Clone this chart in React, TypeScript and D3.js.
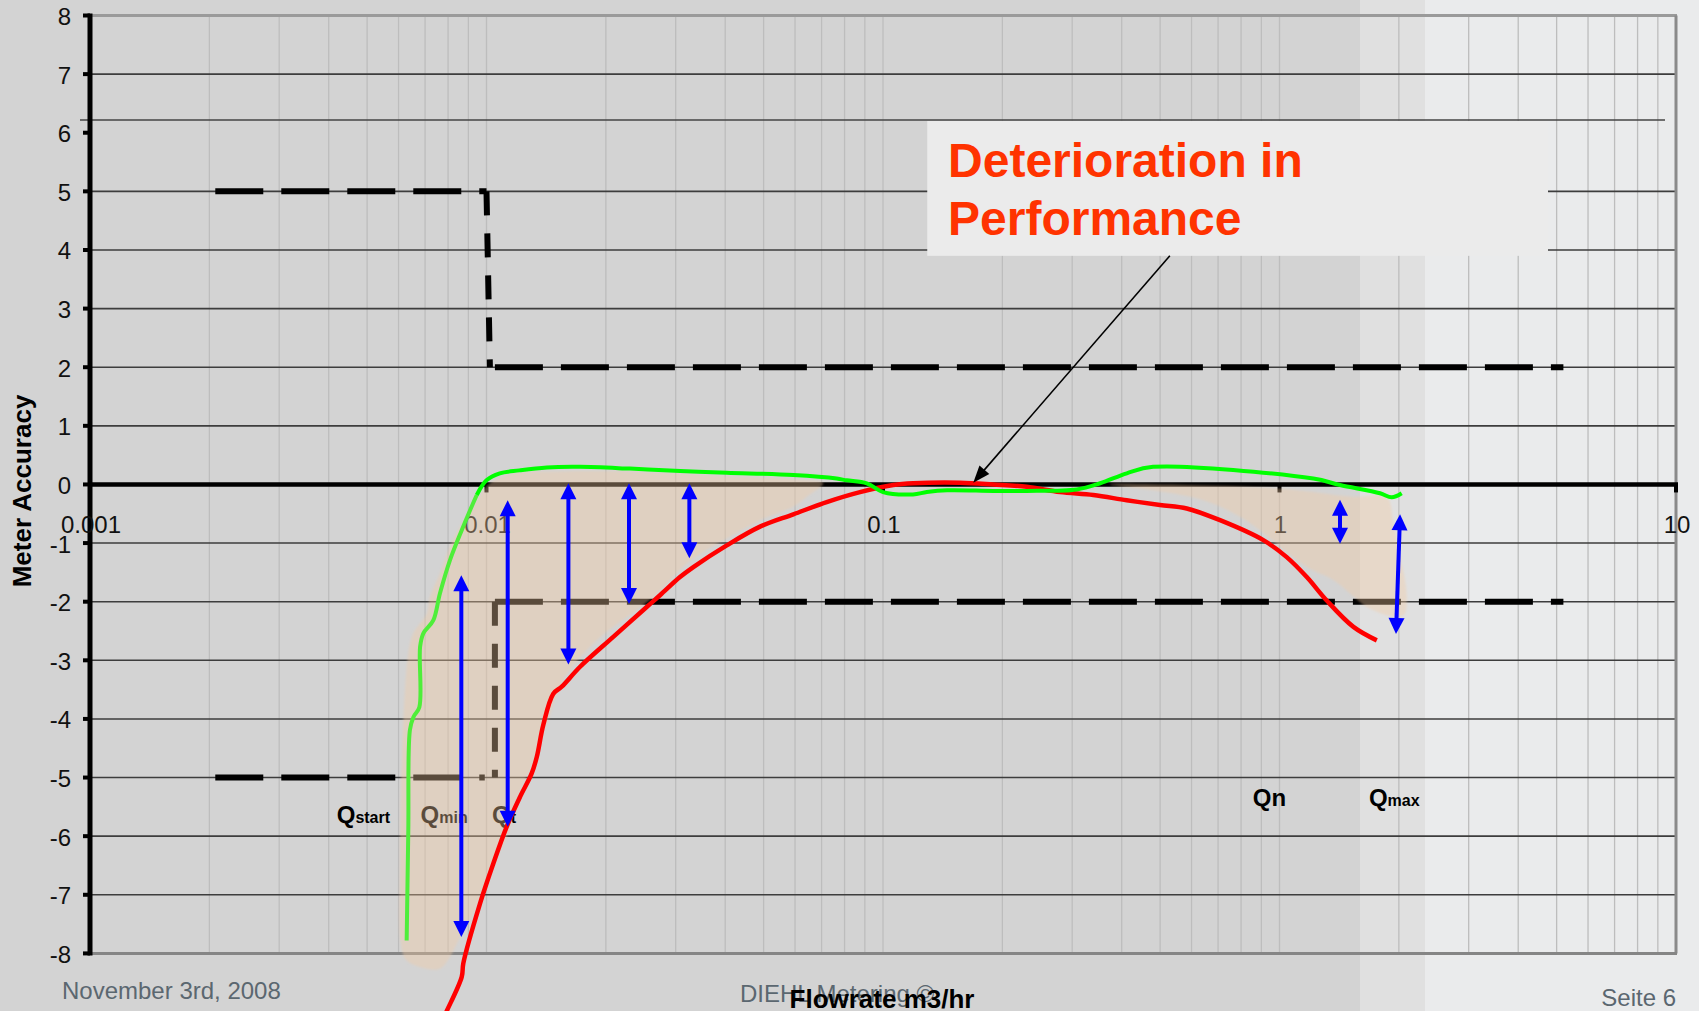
import React from "react";
import * as d3 from "d3";

const W = 1699;
const H = 1011;

// axis ticks
const xTicks = [0.001, 0.01, 0.1, 1, 10];
const xTickLabels = ["0.001", "0.01", "0.1", "1", "10"];
const yTicks = [-8, -7, -6, -5, -4, -3, -2, -1, 0, 1, 2, 3, 4, 5, 6, 7, 8];
const yGridValues = [-7, -6, -5, -4, -3, -2, -1, 1, 2, 3, 4, 5, 7];
const strayLineValue = 6.2;

// new meter curve (green)
const newMeterX = [0.00629, 0.00635, 0.00641, 0.00654, 0.00677, 0.0068, 0.00693, 0.00734, 0.00763, 0.00809, 0.00866, 0.00909, 0.00945, 0.01, 0.0108, 0.0121, 0.0142, 0.0172, 0.023, 0.0308, 0.0404, 0.0594, 0.0764, 0.081, 0.091, 0.1, 0.119, 0.129, 0.145, 0.19, 0.23, 0.308, 0.353, 0.412, 0.48, 1.217, 1.421, 1.793, 1.919, 2.033];
const newMeterY = [-7.78, -5.9, -4.19, -3.97, -3.8, -2.77, -2.54, -2.32, -1.86, -1.29, -0.78, -0.44, -0.18, 0.07, 0.19, 0.24, 0.29, 0.3, 0.27, 0.23, 0.2, 0.16, 0.1, 0.07, 0.02, -0.13, -0.17, -0.13, -0.1, -0.11, -0.11, -0.085, 0.02, 0.19, 0.3, 0.1, -0.01, -0.15, -0.22, -0.15];
const newMeterSplit = 12;

// deteriorated meter curve (red)
const oldMeterX = [0.0078, 0.00793, 0.00866, 0.00874, 0.00963, 0.0104, 0.01124, 0.01215, 0.013, 0.01339, 0.01391, 0.01474, 0.01548, 0.01722, 0.02088, 0.02535, 0.02739, 0.03076, 0.03324, 0.04036, 0.04897, 0.0594, 0.07211, 0.0875, 0.10617, 0.11926, 0.15641, 0.18978, 0.23034, 0.2795, 0.33913, 0.41166, 0.49952, 0.58345, 0.70795, 0.91021, 1.0428, 1.1716, 1.3156, 1.5361, 1.7596];
const oldMeterY = [-9.1, -8.99, -8.4, -8.17, -7.15, -6.47, -5.84, -5.33, -4.93, -4.65, -4.1, -3.57, -3.45, -3.11, -2.6, -2.09, -1.89, -1.58, -1.41, -1.04, -0.72, -0.51, -0.3, -0.13, -0.01, 0.02, 0.03, 0.0, -0.04, -0.13, -0.18, -0.27, -0.35, -0.41, -0.61, -0.95, -1.24, -1.58, -1.98, -2.43, -2.66];

// deterioration band (beige), low-flow part
const bandAX = [0.0102, 0.01168, 0.01419, 0.01933, 0.03076, 0.04036, 0.0594, 0.07068, 0.06423, 0.0594, 0.04897, 0.04036, 0.03324, 0.03076, 0.02635, 0.02088, 0.01896, 0.01594, 0.01503, 0.01419, 0.01364, 0.01312, 0.01238, 0.01168, 0.01124, 0.0102, 0.00945, 0.00858, 0.00809, 0.00763, 0.00707, 0.00629, 0.00608, 0.00605, 0.00611, 0.00635, 0.00654, 0.00707, 0.0072, 0.00763, 0.00809, 0.00858, 0.00945];
const bandAY = [0.02, 0.19, 0.22, 0.23, 0.19, 0.14, 0.09, 0.02, -0.21, -0.38, -0.61, -0.92, -1.26, -1.46, -1.92, -2.43, -2.66, -3.23, -3.57, -4.08, -4.28, -4.76, -5.1, -5.61, -6.01, -6.58, -7.21, -7.72, -8.06, -8.26, -8.26, -8.12, -7.83, -6.47, -4.76, -2.88, -2.54, -2.2, -1.92, -1.52, -1.06, -0.72, -0.27];

// deterioration band (beige), high-flow part
const bandBX = [0.3737, 0.5835, 1.003, 1.536, 1.864, 1.937, 2.014, 2.073, 2.094, 2.073, 2.014, 1.864, 1.659, 1.506, 1.367, 1.172, 1.003, 0.8929, 0.78, 0.6427, 0.4805];
const bandBY = [0.0, -0.01, -0.07, -0.21, -0.22, -0.65, -1.23, -1.63, -1.97, -2.2, -2.26, -2.23, -2.09, -1.86, -1.63, -1.41, -1.06, -0.78, -0.52, -0.27, -0.1];

// blue double arrows
const arrowX = [0.00864, 0.01131, 0.01609, 0.02288, 0.03248, 1.421, 2.014];
const arrowXEnd = [0.00864, 0.01131, 0.01609, 0.02288, 0.03248, 1.421, 1.967];
const arrowTop = [-1.55, -0.27, 0.02, 0.02, 0.02, -0.26, -0.51];
const arrowBottom = [-7.72, -5.84, -3.07, -2.04, -1.26, -1.01, -2.55];

// error limits (dashed)
const limitLeftLevel = [5, -5];
const limitRightLevel = [2, -2];
const limitStart = 0.00207;
const limitLeftEnd = [0.01, 0.0099];
const limitStepX = [0.0101, 0.0105];
const limitRightStart = [0.0105, 0.0105];
const limitEnd = 5.2;

// flow labels
const qSubs = ["start", "min", "t", "n", "max"];
const qSubFull = [false, false, false, true, false];
const qX = [0.00419, 0.00682, 0.01033, 0.856, 1.681];
const qY = [-5.775, -5.775, -5.775, -5.485, -5.485];

// callout
const calloutLines = ["Deterioration in", "Performance"];
const calloutBoxX = [0.1293, 4.755];
const calloutBoxY = [6.2, 3.9];
const calloutTextX = 0.1459;
const calloutTextY = [5.249, 4.254];
const calloutArrowFrom = [0.529, 3.9];
const calloutArrowTo = [0.1689, 0.03];

const FONT = "'Liberation Sans', Arial, sans-serif";

function headPath(tx: number, ty: number, fx: number, fy: number, L: number, hw: number) {
  const dx = tx - fx, dy = ty - fy;
  const len = Math.hypot(dx, dy) || 1;
  const ux = dx / len, uy = dy / len;
  const bx = tx - ux * L, by = ty - uy * L;
  const px = -uy, py = ux;
  return `M${tx},${ty}L${bx + px * hw},${by + py * hw}L${bx - px * hw},${by - py * hw}Z`;
}

export default function App() {
  const x = d3.scaleLog().domain([0.001, 10]).range([90, 1676]);
  const y = d3.scaleLinear().domain([-8, 8]).range([953.4, 15.5]);
  const pts = (xs: number[], ys: number[]) => xs.map((v, i) => [x(v), y(ys[i])] as [number, number]);
  const smooth = d3.line().curve(d3.curveCatmullRom.alpha(0.5));
  const closed = d3.line().curve(d3.curveCatmullRomClosed.alpha(0.5));

  const minorX: number[] = [];
  [0.001, 0.01, 0.1, 1].forEach((d) => {
    for (let k = 1; k <= 9; k++) {
      const v = k * d;
      if (k === 1 && d === 0.001) continue;
      minorX.push(v);
    }
  });

  const x0 = x(0.001), x1 = x(10);
  const yTop = y(8), yBot = y(-8), y0 = y(0);

  const greenAll = pts(newMeterX, newMeterY);
  const greenLow = greenAll.slice(0, newMeterSplit + 1);
  const greenHigh = greenAll.slice(newMeterSplit);

  return (
    <div>
      <style>{"html,body{margin:0;padding:0;background:#d3d3d3;overflow:hidden}"}</style>
      <svg width={W} height={H} style={{ display: "block" }} fontFamily={FONT}>
        <defs>
          <filter id="soft" x="-5%" y="-5%" width="110%" height="110%">
            <feGaussianBlur stdDeviation="1.3" />
          </filter>
        </defs>
        {/* slide background bands */}
        <rect x={0} y={0} width={W} height={H} fill="#d3d3d3" />
        <rect x={1360} y={0} width={65} height={H} fill="#e0e0e0" />
        <rect x={1425} y={0} width={W - 1425} height={H} fill="#eaebec" />

        {/* vertical gridlines */}
        {minorX.map((v, i) => (
          <line key={"vx" + i} x1={x(v)} x2={x(v)} y1={yTop} y2={yBot} stroke="#bdbdbd" strokeWidth={1.3} />
        ))}
        {/* horizontal gridlines */}
        {yGridValues.map((v) => (
          <line key={"hy" + v} x1={x0} x2={x1} y1={y(v)} y2={y(v)} stroke="#3d3d3d" strokeWidth={1.6} />
        ))}

        {/* callout box */}
        <rect
          x={x(calloutBoxX[0])}
          y={y(calloutBoxY[0])}
          width={x(calloutBoxX[1]) - x(calloutBoxX[0])}
          height={y(calloutBoxY[1]) - y(calloutBoxY[0])}
          fill="#ebebeb"
        />
        <line x1={x0 - 10} x2={x1 - 11} y1={y(strayLineValue) - 1} y2={y(strayLineValue) - 1} stroke="#444" strokeWidth={1.5} />

        {/* frame */}
        <line x1={x0} x2={x1 + 1} y1={yTop} y2={yTop} stroke="#9a9a9a" strokeWidth={3} />
        <line x1={x1} x2={x1} y1={yTop} y2={yBot} stroke="#8a8a8a" strokeWidth={3} />
        <line x1={x0} x2={x1 + 1} y1={yBot} y2={yBot} stroke="#858585" strokeWidth={3} />

        {/* y axis */}
        <line x1={x0} x2={x0} y1={yTop - 2} y2={yBot + 2} stroke="#000" strokeWidth={5} />
        {yTicks.map((v) => (
          <g key={"yt" + v}>
            <line x1={x0 - 7} x2={x0} y1={y(v)} y2={y(v)} stroke="#000" strokeWidth={4} />
            <text x={71} y={y(v) + 9.5} textAnchor="end" fontSize={24} fill="#111">
              {v}
            </text>
          </g>
        ))}
        {/* zero line / x axis */}
        <line x1={x0} x2={x1 + 2} y1={y0} y2={y0} stroke="#000" strokeWidth={4.5} />
        {xTicks.map((v, i) => (
          <g key={"xt" + v}>
            {i > 0 && <line x1={x(v)} x2={x(v)} y1={y0} y2={y0 + 8} stroke="#000" strokeWidth={4} />}
            <text x={x(v) + 1} y={533} textAnchor="middle" fontSize={24} fill="#111">
              {xTickLabels[i]}
            </text>
          </g>
        ))}

        {/* axis titles */}
        <text transform="translate(31,491) rotate(-90)" textAnchor="middle" fontSize={26} fontWeight="bold" fill="#000">
          Meter Accuracy
        </text>

        {/* error limits */}
        {limitLeftLevel.map((lv, i) => {
          const rv = limitRightLevel[i];
          const hi = Math.max(lv, rv), lo = Math.min(lv, rv);
          const sx = limitStepX[i];
          const stepTopX = i === 0 ? limitLeftEnd[i] : sx;
          return (
            <g key={"lim" + i} stroke="#000" strokeWidth={6} fill="none">
              <line x1={x(limitStart)} x2={x(limitLeftEnd[i])} y1={y(lv)} y2={y(lv)} strokeDasharray="48 18" />
              <line x1={x(stepTopX)} x2={x(i === 0 ? 0.0102 : sx)} y1={y(hi)} y2={y(lo)} strokeDasharray="24 18" />
              <line x1={x(limitRightStart[i])} x2={x(limitEnd)} y1={y(rv)} y2={y(rv)} strokeDasharray="48 18" />
            </g>
          );
        })}

        {/* Q labels */}
        {qSubs.map((s, i) => (
          <text key={"q" + i} x={x(qX[i])} y={y(qY[i])} fontWeight="bold" fill="#000" fontSize={24}>
            Q<tspan fontSize={qSubFull[i] ? 24 : 16}>{s}</tspan>
          </text>
        ))}

        {/* deterioration band */}
        <g filter="url(#soft)">
          <path d={closed(pts(bandAX, bandAY)) || ""} fill="rgb(243,203,162)" fillOpacity={0.37} />
          <path d={closed(pts(bandBX, bandBY)) || ""} fill="rgb(243,203,162)" fillOpacity={0.37} />
        </g>

        {/* curves */}
        <path d={smooth(pts(oldMeterX, oldMeterY)) || ""} fill="none" stroke="#ff0000" strokeWidth={4.5} strokeLinejoin="round" />
        <path d={smooth(greenLow) || ""} fill="none" stroke="#4fee3a" strokeWidth={4} strokeLinejoin="round" />
        <path d={smooth(greenHigh) || ""} fill="none" stroke="#00ff00" strokeWidth={4} strokeLinejoin="round" />

        {/* blue double arrows */}
        {arrowX.map((xv, i) => {
          const tx = x(xv), ty = y(arrowTop[i]);
          const bx = x(arrowXEnd[i]), by = y(arrowBottom[i]);
          const len = Math.hypot(bx - tx, by - ty);
          const ux = (bx - tx) / len, uy = (by - ty) / len;
          const L = 16;
          return (
            <g key={"ar" + i}>
              <line x1={tx + ux * (L - 2)} y1={ty + uy * (L - 2)} x2={bx - ux * (L - 2)} y2={by - uy * (L - 2)} stroke="#0000ff" strokeWidth={4} />
              <path d={headPath(tx, ty, bx, by, L, 8)} fill="#0000ff" />
              <path d={headPath(bx, by, tx, ty, L, 8)} fill="#0000ff" />
            </g>
          );
        })}

        {/* callout text and pointer */}
        {calloutLines.map((t, i) => (
          <text key={"cl" + i} x={x(calloutTextX)} y={y(calloutTextY[i])} fontSize={48} fontWeight="bold" fill="#ff3300">
            {t}
          </text>
        ))}
        {(() => {
          const fx = x(calloutArrowFrom[0]), fy = y(calloutArrowFrom[1]);
          const tx = x(calloutArrowTo[0]), ty = y(calloutArrowTo[1]);
          const len = Math.hypot(tx - fx, ty - fy);
          const ux = (tx - fx) / len, uy = (ty - fy) / len;
          return (
            <g>
              <line x1={fx} y1={fy} x2={tx - ux * 12} y2={ty - uy * 12} stroke="#000" strokeWidth={1.6} />
              <path d={headPath(tx, ty, fx, fy, 17, 6.5)} fill="#000" />
            </g>
          );
        })()}

        {/* footer */}
        <text x={62} y={999} fontSize={24} fill="#5b6770">November 3rd, 2008</text>
        <text x={740} y={1002} fontSize={24} fill="#5b6770">DIEHL Metering ©</text>
        <text x={1676} y={1005.5} fontSize={24} fill="#5b6770" textAnchor="end">Seite 6</text>
        <text x={882} y={1007.5} fontSize={26} fontWeight="bold" fill="#000" textAnchor="middle">
          Flowrate m3/hr
        </text>
      </svg>
    </div>
  );
}
